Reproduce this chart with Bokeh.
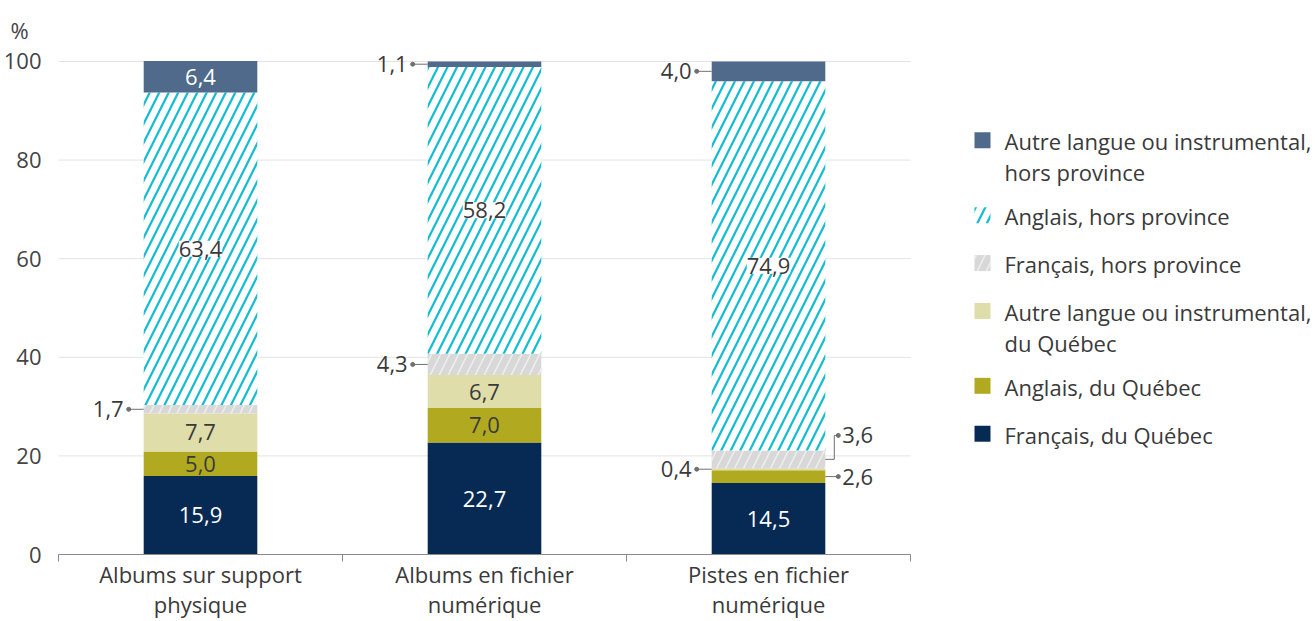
from bokeh.plotting import figure
from bokeh.models import Range1d, FixedTicker, LabelSet, ColumnDataSource
from bokeh.core.properties import value
from bokeh.embed import file_html
from bokeh.resources import INLINE

# ---------------- data ----------------
categories = ["Albums sur support\nphysique", "Albums en fichier\nnumérique", "Pistes en fichier\nnumérique"]
series_names = [
    "Français, du Québec",
    "Anglais, du Québec",
    "Autre langue ou instrumental,\ndu Québec",
    "Français, hors province",
    "Anglais, hors province",
    "Autre langue ou instrumental,\nhors province",
]
francais_quebec = [15.9, 22.7, 14.5]
anglais_quebec = [5.0, 7.0, 2.6]
autre_quebec = [7.7, 6.7, 0.4]
francais_hors = [1.7, 4.3, 3.6]
anglais_hors = [63.4, 58.2, 74.9]
autre_hors = [6.4, 1.1, 4.0]
y_ticks = [0, 20, 40, 60, 80, 100]
values = [francais_quebec, anglais_quebec, autre_quebec, francais_hors, anglais_hors, autre_hors]

# label placement (series index, category index) -> side; everything else inside
outside = {(3, 0): "left", (5, 1): "left", (3, 1): "left", (5, 2): "left",
           (2, 2): "left", (1, 2): "right", (3, 2): "elbow"}

# ---------------- style ----------------
FONT = "Open Sans"
TXT = "#3a3a3a"
FS = "22px"
styles = [
    dict(fill_color="#072a55"),
    dict(fill_color="#b1aa20"),
    dict(fill_color="#dfdda9"),
    dict(fill_color="#d8d8d8", hatch_pattern="/", hatch_color="#eeeeee", hatch_weight=1.5, hatch_scale=18),
    dict(fill_color="white", hatch_pattern="/", hatch_color="#12bdd4", hatch_weight=2.2, hatch_scale=19),
    dict(fill_color="#4f6a8a"),
]
inside_color = ["white", TXT, TXT, TXT, TXT, "white"]

W, H = 1315, 621
BL, BR, BT, BB = 58, 0, 51, 66
FW, FH = W - BL - BR, H - BT - BB          # 1257 x 504
ncat = len(categories)
PX_X = 284.0                                # pixels per category
PX_Y = 4.94                                 # pixels per percentage point
dx = 1 / PX_X
dy = 1 / PX_Y

p = figure(width=W, height=H, x_range=Range1d(0, FW / PX_X), y_range=Range1d(0, FH / PX_Y),
           output_backend="svg", toolbar_location=None,
           min_border_left=BL, min_border_right=BR, min_border_top=BT, min_border_bottom=BB)
p.outline_line_color = None
p.background_fill_color = "white"
p.border_fill_color = "white"
p.xgrid.grid_line_color = None
p.ygrid.grid_line_color = None

# gridlines limited to the plotting region of the bars
p.segment(x0=[0] * len(y_ticks), x1=[ncat] * len(y_ticks), y0=y_ticks, y1=y_ticks,
          line_color="#e3e3e3", line_width=1)

BW = 0.4
centers = [i + 0.5 for i in range(ncat)]
bottoms = [0.0] * ncat
mids = []
for s, vals in enumerate(values):
    tops = [b + v for b, v in zip(bottoms, vals)]
    p.vbar(x=centers, bottom=bottoms, top=tops, width=BW, line_color=None, **styles[s])
    mids.append([(b + t) / 2 for b, t in zip(bottoms, tops)])
    bottoms = tops

def fmt(v):
    return f"{v:.1f}".replace(".", ",")

# inside labels
in_x, in_y, in_t, in_c = [], [], [], []
bg_x, bg_y, bg_t = [], [], []
for s, vals in enumerate(values):
    for c, v in enumerate(vals):
        if (s, c) in outside:
            continue
        if s == 4:
            bg_x.append(centers[c]); bg_y.append(mids[s][c]); bg_t.append(fmt(v))
        else:
            in_x.append(centers[c]); in_y.append(mids[s][c]); in_t.append(fmt(v)); in_c.append(inside_color[s])

p.text(x=in_x, y=in_y, text=in_t, text_color=in_c, text_font=value(FONT), text_font_size=FS,
       text_align="center", text_baseline="middle")
bg_src = ColumnDataSource(dict(x=bg_x, y=bg_y, t=bg_t))
p.add_layout(LabelSet(x="x", y="y", text="t", source=bg_src, text_font=value(FONT), text_font_size=value(FS),
                      text_color=TXT, text_align="center", text_baseline="middle",
                      background_fill_color="white"))

# outside labels with leader lines
LC = "#707070"
seg = dict(x0=[], y0=[], x1=[], y1=[])
dots_x, dots_y = [], []
lt = dict(x=[], y=[], t=[])
rt = dict(x=[], y=[], t=[])
elbow_xs, elbow_ys = [], []
for (s, c), side in outside.items():
    v = values[s][c]
    m = mids[s][c]
    bl = centers[c] - BW / 2
    br = centers[c] + BW / 2
    if side == "left":
        seg["x0"].append(bl - 15 * dx); seg["x1"].append(bl); seg["y0"].append(m); seg["y1"].append(m)
        dots_x.append(bl - 15 * dx); dots_y.append(m)
        lt["x"].append(bl - 20 * dx); lt["y"].append(m); lt["t"].append(fmt(v))
    elif side == "right":
        seg["x0"].append(br); seg["x1"].append(br + 13 * dx); seg["y0"].append(m); seg["y1"].append(m)
        dots_x.append(br + 13 * dx); dots_y.append(m)
        rt["x"].append(br + 17 * dx); rt["y"].append(m); rt["t"].append(fmt(v))
    else:
        yy = m + 24 * dy
        elbow_xs.append([br, br + 9 * dx, br + 9 * dx, br + 13 * dx])
        elbow_ys.append([m, m, yy, yy])
        dots_x.append(br + 13 * dx); dots_y.append(yy)
        rt["x"].append(br + 17 * dx); rt["y"].append(yy); rt["t"].append(fmt(v))

p.segment(x0=seg["x0"], y0=seg["y0"], x1=seg["x1"], y1=seg["y1"], line_color=LC, line_width=1)
p.multi_line(xs=elbow_xs, ys=elbow_ys, line_color=LC, line_width=1)
p.scatter(x=dots_x, y=dots_y, size=4, color=LC)
p.text(x=lt["x"], y=lt["y"], text=lt["t"], text_color=TXT, text_font=value(FONT), text_font_size=FS,
       text_align="right", text_baseline="middle")
p.text(x=rt["x"], y=rt["y"], text=rt["t"], text_color=TXT, text_font=value(FONT), text_font_size=FS,
       text_align="left", text_baseline="middle")

# axes
xa = p.xaxis[0]
xa.bounds = (0, ncat)
xa.ticker = FixedTicker(ticks=centers, minor_ticks=list(range(ncat + 1)))
xa.major_label_overrides = {c: lab for c, lab in zip(centers, categories)}
xa.major_tick_line_color = None
xa.major_tick_out = 0
xa.major_tick_in = 0
xa.minor_tick_out = 7
xa.minor_tick_in = 0
xa.minor_tick_line_color = "#8a8a8a"
xa.axis_line_color = "#8a8a8a"
xa.major_label_text_font = FONT
xa.major_label_text_font_size = FS
xa.major_label_text_color = TXT
xa.major_label_text_line_height = 1.0
xa.major_label_standoff = -3

ya = p.yaxis[0]
ya.ticker = FixedTicker(ticks=y_ticks)
ya.axis_line_color = None
ya.major_tick_line_color = None
ya.minor_tick_line_color = None
ya.major_label_text_font = FONT
ya.major_label_text_font_size = FS
ya.major_label_text_color = "#444444"
ya.major_label_standoff = 11

# unit title "%"
p.title.text = "%"
p.title.text_font = FONT
p.title.text_font_size = FS
p.title.text_font_style = "normal"
p.title.text_color = "#444444"
p.title.align = "left"
p.title.offset = -48
p.title.vertical_align = "top"
p.title.standoff = 9

# ---------------- legend (inside the wide frame, right of the bars) ----------------
def px_x(px):   # page pixel -> data x
    return (px - BL) / PX_X

def px_y(py):   # page pixel -> data y
    return (H - BB - py) / PX_Y

sq_x0, sq_x1, txt_x = 974, 990, 1004
ycur = 140.0
for s in reversed(range(len(series_names))):
    lines = series_names[s].split("\n")
    p.quad(left=px_x(sq_x0), right=px_x(sq_x1), top=px_y(ycur - 8), bottom=px_y(ycur + 8),
           line_color=None, **styles[s])
    p.text(x=[px_x(txt_x)] * len(lines), y=[px_y(ycur + 1 + 31 * k) for k in range(len(lines))],
           text=lines, text_color=TXT, text_font=value(FONT), text_font_size=FS,
           text_align="left", text_baseline="middle")
    ycur += 48 + 27 * (len(lines) - 1)

open("out.html", "w").write(file_html(p, INLINE))
